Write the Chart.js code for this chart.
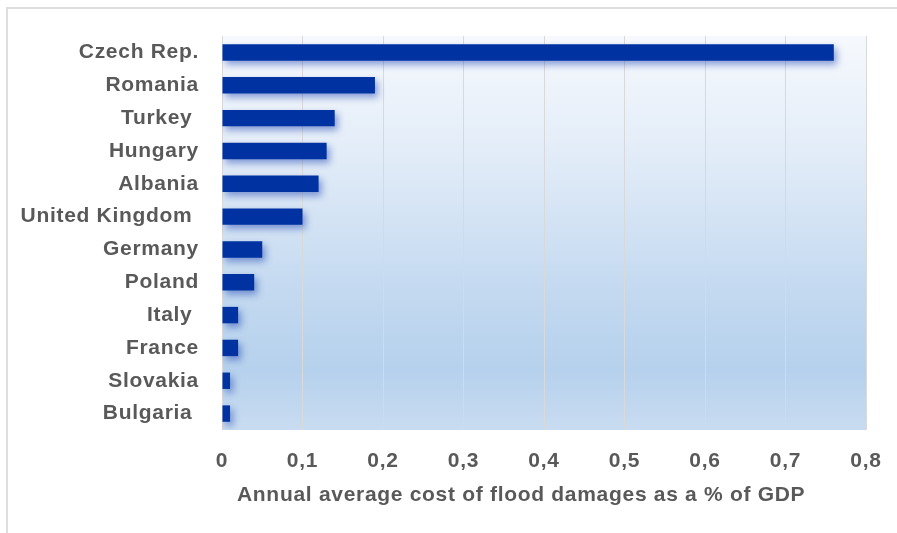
<!DOCTYPE html>
<html>
<head>
<meta charset="utf-8">
<title>Flood damages</title>
<script src="https://cdn.jsdelivr.net/npm/chart.js@4/dist/chart.umd.min.js"></script>
<style>
    html, body { margin: 0; padding: 0; background: #ffffff; }
    #wrap { width: 897px; height: 533px; position: relative; }
</style>
</head>
<body>
<div id="wrap"><canvas id="chart" width="897" height="533"></canvas></div>
<script>
// 国別データ（GDP比の洪水被害コスト）
const countries = ['Czech Rep.', 'Romania', 'Turkey ', 'Hungary', 'Albania', 'United Kingdom ',
    'Germany', 'Poland', 'Italy ', 'France', 'Slovakia', 'Bulgaria '];
const costShare = [0.76, 0.19, 0.14, 0.13, 0.12, 0.10, 0.05, 0.04, 0.02, 0.02, 0.01, 0.01];
// 末尾の空白でタイトルを少し左寄せにする
const axisTitle = 'Annual average cost of flood damages as a % of GDP       ';

const textColor = '#595959';
const fontFamily = '"Liberation Sans", Arial, sans-serif';
const labelFont = { family: fontFamily, size: 21, weight: 'bold' };

// 文字間を少し広げる（計測と描画の両方で効くように）
const spacingPlugin = {
    id: 'spacing',
    beforeUpdate(chart) { chart.ctx.letterSpacing = '0.7px'; },
    beforeDraw(chart) { chart.ctx.letterSpacing = '0.7px'; }
};

// 外枠（上と左の線）とプロット背景のグラデーション
const framePlugin = {
    id: 'frame',
    beforeDraw(chart) {
        const { ctx, chartArea: a } = chart;
        ctx.save();
        ctx.fillStyle = '#ffffff';
        ctx.fillRect(0, 0, chart.width, chart.height);
        ctx.fillStyle = '#dedede';
        ctx.fillRect(6, 7, 2, chart.height - 7);
        ctx.fillRect(6, 7, chart.width - 6, 2);

        const g = ctx.createLinearGradient(0, a.top, 0, a.bottom);
        g.addColorStop(0, '#f6f9fd');
        g.addColorStop(0.3, '#e2ecf8');
        g.addColorStop(0.65, '#c3d9f0');
        g.addColorStop(0.85, '#b6d1ed');
        g.addColorStop(1, '#c9dcf1');
        ctx.fillStyle = g;
        ctx.fillRect(a.left, a.top, a.right - a.left, a.bottom - a.top);
        ctx.restore();
    }
};

// バーの下にぼかし影を付ける
const shadowPlugin = {
    id: 'barShadow',
    beforeDatasetDraw(chart) {
        const ctx = chart.ctx;
        ctx.save();
        ctx.shadowColor = 'rgba(10, 50, 170, 0.45)';
        ctx.shadowBlur = 7;
        ctx.shadowOffsetX = 3;
        ctx.shadowOffsetY = 4;
    },
    afterDatasetDraw(chart) {
        chart.ctx.restore();
    }
};

new Chart(document.getElementById('chart'), {
    type: 'bar',
    data: {
        labels: countries,
        datasets: [{
            data: costShare,
            backgroundColor: '#0033a1',
            borderWidth: 0,
            categoryPercentage: 1,
            barPercentage: 0.5
        }]
    },
    options: {
        indexAxis: 'y',
        responsive: false,
        animation: false,
        layout: { padding: { left: 0, top: 36, right: 31, bottom: 25 } },
        plugins: {
            legend: { display: false },
            tooltip: { enabled: false }
        },
        scales: {
            x: {
                min: 0,
                max: 0.8,
                afterFit(s) {
                    s.height = 78;
                    s.paddingLeft = 0;
                    s.paddingRight = 0;
                },
                grid: { color: '#d9d9d9', lineWidth: 1, drawTicks: false },
                border: { display: false },
                ticks: {
                    stepSize: 0.1,
                    padding: 19,
                    color: textColor,
                    font: labelFont,
                    callback: v => v === 0 ? '0' : v.toFixed(1).replace('.', ',')
                },
                title: {
                    display: true,
                    text: axisTitle,
                    color: textColor,
                    padding: { top: 4, bottom: 0 },
                    font: labelFont
                }
            },
            y: {
                afterFit(s) { s.width = 222; },
                grid: { display: false },
                border: { display: false },
                ticks: {
                    padding: 15,
                    color: textColor,
                    font: labelFont
                }
            }
        }
    },
    plugins: [spacingPlugin, framePlugin, shadowPlugin]
});
</script>
</body>
</html>
